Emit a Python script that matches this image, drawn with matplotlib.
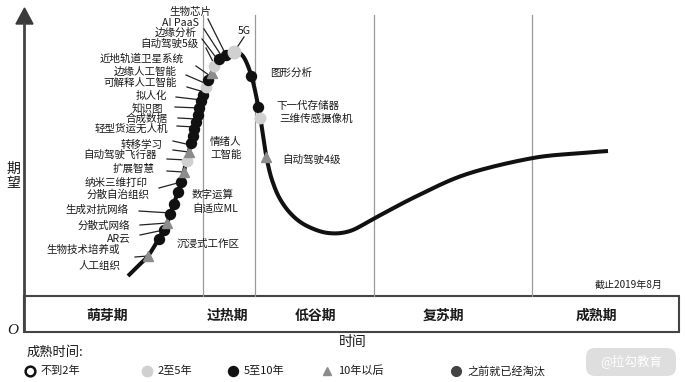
import numpy as np
import matplotlib
matplotlib.use("Agg")
import matplotlib.pyplot as plt
from matplotlib.patches import Polygon, Rectangle, FancyBboxPatch

plt.rcParams['font.family'] = ['Noto Sans CJK SC', 'DejaVu Sans']

# ---------------- data ----------------
# hype curve (x: time, y: expectation in image units, smaller = higher)
curve_x = [128, 138, 148, 158, 167, 173, 180, 186, 191, 196, 201, 206, 212, 217, 226, 234,
           242, 248, 253, 257, 261, 264, 267, 272, 280, 292, 307, 328, 350, 375, 417, 467, 533, 583, 608]
curve_y = [276, 266, 256, 240, 223, 206, 186, 163, 143, 122, 102, 86, 72, 61, 55, 52,
           55, 66, 82, 100, 122, 142, 160, 180, 199, 215, 226, 233, 231, 218, 196, 174, 158, 153, 151]

# technologies on rising branch (expectation level) and maturity class
rise_y = [256, 239, 230, 223, 214, 204, 192, 182, 172, 161, 152, 143, 136, 129, 122, 115,
          108, 101, 95, 87, 80, 73, 66, 59, 55]
rise_kind = ['tri', 'dark', 'dark', 'tri', 'dark', 'dark', 'dark', 'dark', 'tri', 'light', 'tri',
             'dark', 'dark', 'dark', 'dark', 'dark', 'dark', 'dark', 'dark', 'light', 'dark', 'tri',
             'light', 'dark', 'dark']
# technologies on falling branch
fall_y = [76, 107, 118, 157]
fall_kind = ['dark', 'dark', 'light', 'tri']
peak_kind = 'light'

# left-side labels (right aligned)
left_labels = ['生物芯片', 'AI PaaS', '边缘分析', '自动驾驶5级', '近地轨道卫星系统', '边缘人工智能',
               '可解释人工智能', '拟人化', '知识图', '合成数据', '轻型货运无人机', '转移学习',
               '自动驾驶飞行器', '扩展智慧', '纳米三维打印', '分散自治组织', '生成对抗网络',
               '分散式网络', 'AR云', '生物技术培养或', '人工组织']
left_label_x = [211, 199, 197, 199, 184, 177, 177, 167, 163, 168, 168, 163,
                157, 155, 148, 150, 128, 130, 131, 120, 120]
left_label_y = [12, 23, 33, 44, 59, 72, 83, 96, 108, 119, 129, 145,
                155, 169, 183, 195, 210, 226, 238, 250, 266]

# leader lines: start point and target expectation level on rising branch
leader_sx = [208, 204, 202, 206, 196, 186, 187, 176, 175, 178, 177, 173, 173, 167, 167, 159, 139, 140, 140, 135]
leader_sy = [19, 29, 39, 48, 66, 75, 87, 97, 107, 118, 126, 141, 150, 159, 171, 188, 211, 225, 235, 257]
leader_ty = [55, 57, 60, 65, 76, 84, 92, 100, 108, 119, 127, 145, 152, 160, 172, 182, 213, 223, 230, 256]

# right / inner labels (left aligned)
right_labels = ['图形分析', '下一代存储器', '三维传感摄像机', '自动驾驶4级', '情绪人', '工智能',
                '数字运算', '自适应ML', '沉浸式工作区']
right_label_x = [270, 276, 279, 282, 210, 210, 192, 192, 177]
right_label_y = [73, 106, 119, 160, 142, 155, 195, 209, 244]

phases = ['萌芽期', '过热期', '低谷期', '复苏期', '成熟期']
phase_x = [107, 228, 316, 443, 596]
phase_bounds = [203, 255, 374, 532]

legend_kinds = ['open', 'light', 'dark', 'tri', 'gone']
legend_labels = ['不到2年', '2至5年', '5至10年', '10年以后', '之前就已经淘汰']
legend_x = [30, 147, 233, 327, 456]

# ---------------- helpers ----------------
def catmull_rom(xs, ys, n=24):
    P = np.column_stack([xs, ys]).astype(float)
    P = np.vstack([P[0], P, P[-1]])
    out = []
    t = np.linspace(0, 1, n, endpoint=False)[:, None]
    for i in range(1, len(P) - 2):
        p0, p1, p2, p3 = P[i - 1], P[i], P[i + 1], P[i + 2]
        pts = 0.5 * ((2 * p1) + (-p0 + p2) * t + (2 * p0 - 5 * p1 + 4 * p2 - p3) * t ** 2
                     + (-p0 + 3 * p1 - 3 * p2 + p3) * t ** 3)
        out.append(pts)
    out.append(P[-2][None, :])
    return np.vstack(out)

dense = catmull_rom(curve_x, curve_y)
ipk = int(np.argmin(dense[:, 1]))
rise = dense[:ipk + 1]
fall = dense[ipk:]
itr = int(np.argmax(fall[:, 1]))
fall = fall[:itr + 1]

def x_rise(y):
    return np.interp(y, rise[::-1, 1], rise[::-1, 0])

def x_fall(y):
    return np.interp(y, fall[:, 1], fall[:, 0])

styles = {
    'open': dict(marker='o', mfc='white', mec='#111111', mew=1.8, ms=7),
    'light': dict(marker='o', mfc='#d0d0d0', mec='#d0d0d0', ms=7.5),
    'dark': dict(marker='o', mfc='#111111', mec='#111111', ms=7.2),
    'tri': dict(marker='^', mfc='#8c8c8c', mec='#8c8c8c', ms=6.5),
    'gone': dict(marker='o', mfc='#444444', mec='#444444', ms=7),
}

# ---------------- figure ----------------
fig = plt.figure(figsize=(6.85, 3.82), dpi=100)
ax = fig.add_axes([0, 0, 1, 1])
ax.set_xlim(0, 685)
ax.set_ylim(382, 0)
ax.axis('off')

txt = '#1a1a1a'

# y axis with arrow
ax.plot([24.5, 24.5], [22, 332], color='#444444', lw=2, solid_capstyle='butt')
ax.add_patch(Polygon([(16, 24), (33, 24), (24.5, 8)], closed=True, color='#3a3a3a'))

# phase dividers
for b in phase_bounds:
    ax.plot([b, b], [15, 296], color='#9a9a9a', lw=0.9)

# phase box
ax.add_patch(Rectangle((24.5, 296), 655, 36, fill=False, ec='#444444', lw=1.5))
for name, px in zip(phases, phase_x):
    ax.text(px, 316, name, ha='center', va='center', fontsize=10, fontweight='bold', color=txt)

# curve
ax.plot(dense[:, 0], dense[:, 1], color='#111111', lw=2.9, zorder=3, solid_capstyle='butt')

# leader lines
for sx, sy, ty in zip(leader_sx, leader_sy, leader_ty):
    ax.plot([sx, x_rise(ty)], [sy, ty], color='#222222', lw=0.9, zorder=2)
# 5G leader
ax.plot([244, dense[ipk, 0]], [37, dense[ipk, 1]], color='#222222', lw=0.9, zorder=2)

# markers
for y, k in zip(rise_y, rise_kind):
    ax.plot([x_rise(y)], [y], ls='none', zorder=4, **styles[k])
for y, k in zip(fall_y, fall_kind):
    ax.plot([x_fall(y)], [y], ls='none', zorder=4, **styles[k])
pk = dict(styles[peak_kind]); pk['ms'] = 9
ax.plot([dense[ipk, 0]], [dense[ipk, 1]], ls='none', zorder=4, **pk)

# labels
for s, lx, ly in zip(left_labels, left_label_x, left_label_y):
    ax.text(lx, ly, s, ha='right', va='center', fontsize=7.6, color=txt)
for s, lx, ly in zip(right_labels, right_label_x, right_label_y):
    ax.text(lx, ly, s, ha='left', va='center', fontsize=7.6, color=txt)
ax.text(238, 31, '5G', ha='left', va='center', fontsize=7.6, color=txt)

ax.text(663, 285, '截止2019年8月', ha='right', va='center', fontsize=7.2, color=txt)

# axis titles
ax.text(13, 169, '期', ha='center', va='center', fontsize=10, color=txt)
ax.text(13, 183, '望', ha='center', va='center', fontsize=10, color=txt)
ax.text(13, 330, 'O', ha='center', va='center', fontsize=11, style='italic',
        family='Liberation Serif', color=txt)
ax.text(353, 342, '时间', ha='center', va='center', fontsize=10, color=txt)

# legend
ax.text(27, 352, '成熟时间:', ha='left', va='center', fontsize=9.5, color=txt)
for k, lab, lx in zip(legend_kinds, legend_labels, legend_x):
    st = dict(styles[k])
    if k == 'tri':
        st['ms'] = 6
    ax.plot([lx], [371], ls='none', **st)
    ax.text(lx + 11, 371, lab, ha='left', va='center', fontsize=8, color=txt)

# watermark
ax.add_patch(FancyBboxPatch((586, 348), 90, 28, boxstyle='round,pad=0,rounding_size=9',
                            fc='#dedede', ec='none', zorder=5))
ax.text(631, 362, '@拉勾教育', ha='center', va='center', fontsize=9, color='white', zorder=6)

fig.savefig('out.png', dpi=100)
